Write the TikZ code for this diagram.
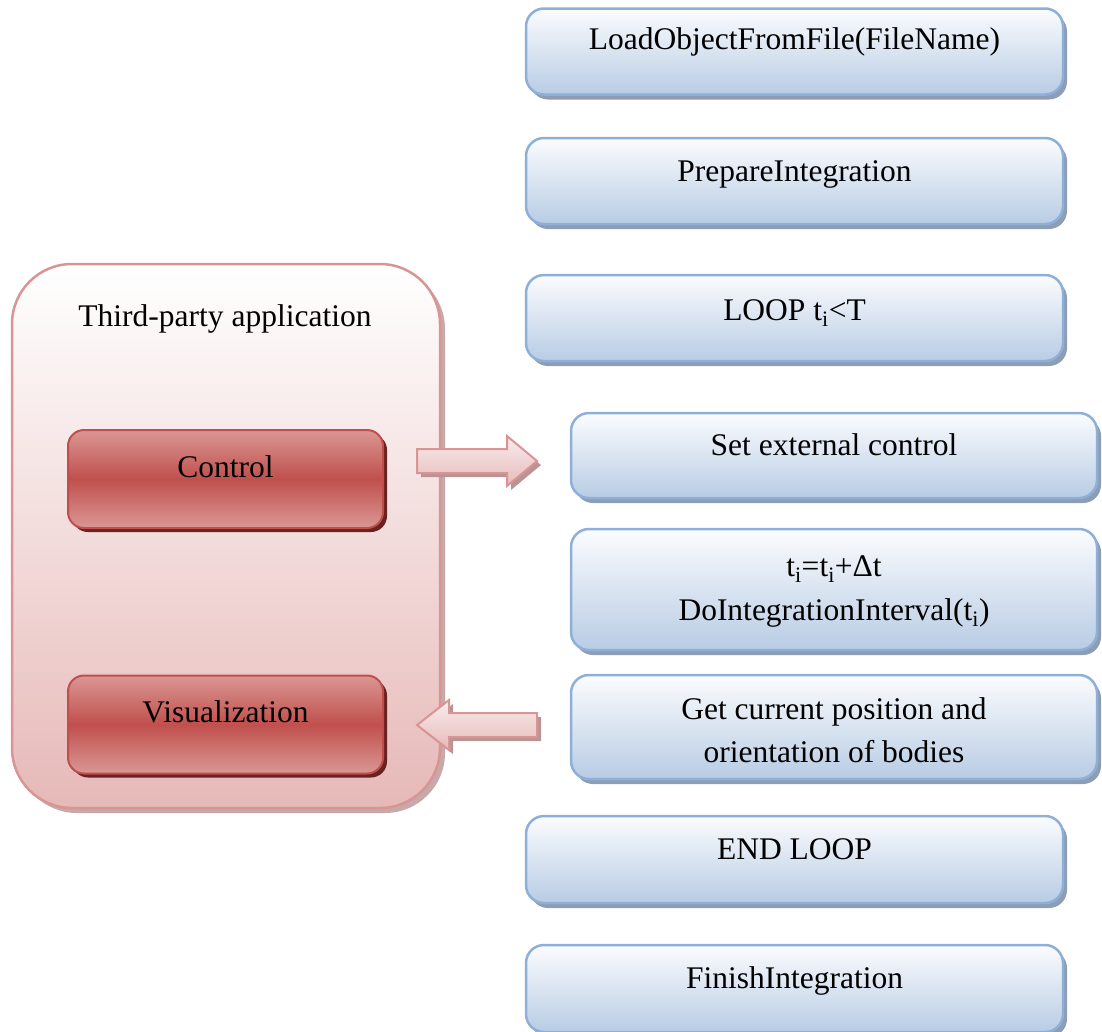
\documentclass[tikz,border=0pt]{standalone}
\usepackage{fontspec}
\setmainfont{Liberation Serif}
\usetikzlibrary{shadows}
\definecolor{bluebd}{HTML}{8EB0D8}
\definecolor{bluetop}{HTML}{FBFCFE}
\definecolor{bluebot}{HTML}{B8CCE4}
\definecolor{blueshadow}{HTML}{8C9DB4}
\definecolor{pinkbd}{HTML}{D99594}
\definecolor{pinkbot}{HTML}{E6B9B8}
\definecolor{pinkshadow}{HTML}{B89494}
\definecolor{redmid}{HTML}{C0504D}
\definecolor{redlight}{HTML}{DA9794}
\definecolor{redbd}{HTML}{BF4F4C}
\definecolor{redshadow}{HTML}{6A2220}
\begin{document}
\begin{tikzpicture}[x=1pt,y=-1pt,font=\fontsize{31.5}{43.5}\selectfont]
\tikzset{
  stepbox/.style={draw=bluebd,line width=2.5pt,rounded corners=18pt,
    top color=bluetop,bottom color=bluebot,
    drop shadow={shadow xshift=4pt,shadow yshift=-5pt,fill=blueshadow,opacity=1},
    inner sep=0pt},
  oneline/.style={text height=16pt,text depth=16pt},
  lineText/.style={anchor=base,inner sep=0pt},
  redbox/.style={draw=redbd,line width=2pt,rounded corners=16pt,
    top color=redlight,bottom color=redlight,middle color=redmid,
    drop shadow={shadow xshift=4pt,shadow yshift=-4pt,fill=redshadow,opacity=1},
    minimum width=315pt,minimum height=98pt,inner sep=0pt,
    text height=18pt,text depth=22pt},
  blockarrow/.style={draw=pinkbd,line width=2pt,top color=pinkbot!25!white,bottom color=pinkbot},
  arrowshadow/.style={fill=pinkshadow}
}
\useasboundingbox (0,0) rectangle (1102,1031);
% third-party container
\path[fill=pinkshadow!80,rounded corners=60pt] (17,269) rectangle (445,813);
\node[draw=pinkbd,line width=2.5pt,rounded corners=60pt,top color=white,bottom color=pinkbot,
  minimum width=428pt,minimum height=544pt,inner sep=0pt] (app) at (226,536) {};
\node[anchor=base] (apptitle) at (225,326) {Third-party application};
\node[redbox] (ctrl) at (225.5,479) {Control};
\node[redbox] (vis) at (225.5,724.5) {Visualization};
% right column
\node[stepbox,oneline,minimum width=537pt,minimum height=86pt,text height=14pt,text depth=19pt] (load) at (794.5,51.5) {LoadObjectFromFile(FileName)};
\node[stepbox,oneline,minimum width=537pt,minimum height=86pt] (prep) at (794.5,181) {PrepareIntegration};
\node[stepbox,oneline,minimum width=537pt,minimum height=86pt,text height=18pt,text depth=14pt] (loop) at (794.5,318) {LOOP t\textsubscript{i}<T};
\node[stepbox,oneline,minimum width=526pt,minimum height=85pt] (setc) at (834,455.5) {Set external control};
\node[stepbox,minimum width=526pt,minimum height=121pt] (integ) at (834,589.5) {};
\node[lineText] (intega) at (834,576) {t\textsubscript{i}=t\textsubscript{i}+Δt};
\node[lineText] (integb) at (834,620) {DoIntegrationInterval(t\textsubscript{i})};
\node[stepbox,minimum width=526pt,minimum height=104pt] (getp) at (834,727) {};
\node[lineText] (getpa) at (834,719) {Get current position and};
\node[lineText] (getpb) at (834,762) {orientation of bodies};
\node[stepbox,oneline,minimum width=537pt,minimum height=87pt] (endl) at (794.5,859.5) {END LOOP};
\node[stepbox,oneline,minimum width=537pt,minimum height=87pt] (fin) at (794.5,988.5) {FinishIntegration};
% block arrows
\fill[arrowshadow] (421,453) -- (511,453) -- (511,440) -- (541,465) -- (511,490) -- (511,477) -- (421,477) -- cycle;
\draw[blockarrow] (417,449) -- (507,449) -- (507,436) -- (537,461) -- (507,486) -- (507,473) -- (417,473) -- cycle;
\fill[arrowshadow] (541,717) -- (453,717) -- (453,704) -- (421,729) -- (453,754) -- (453,741) -- (541,741) -- cycle;
\draw[blockarrow] (537,713) -- (449,713) -- (449,700) -- (417,725) -- (449,750) -- (449,737) -- (537,737) -- cycle;
\end{tikzpicture}
\end{document}
